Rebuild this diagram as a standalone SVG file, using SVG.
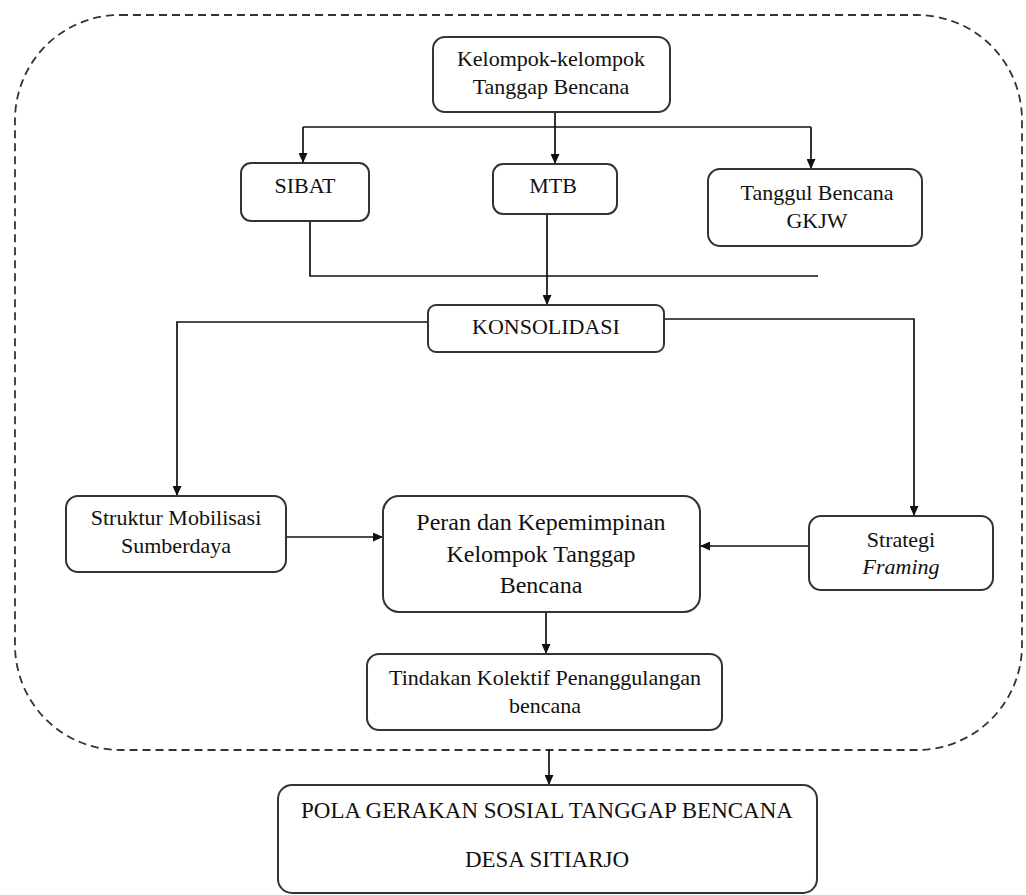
<svg xmlns="http://www.w3.org/2000/svg" width="1026" height="895" viewBox="0 0 1026 895">
<style>
.box{fill:#fff;stroke:#333;stroke-width:2}
text{font-family:'Liberation Serif','Times New Roman',Times,'DejaVu Serif',serif;font-size:22px;fill:#111;text-anchor:middle}
.big{font-size:24px}
.pola{font-size:23px}
.c{fill:none;stroke:#111;stroke-width:1.7}
.a{marker-end:url(#ah)}
</style>
<defs>
<marker id="ah" markerUnits="userSpaceOnUse" markerWidth="10" markerHeight="9" refX="10" refY="4.5" orient="auto">
<path d="M0,0 L10,4.5 L0,9 z" fill="#111"/>
</marker>
</defs>
<rect x="15" y="15" width="1007" height="735" rx="105" ry="105" fill="none" stroke="#333" stroke-width="1.8" stroke-dasharray="8 5"/>
<g id="connectors">
<path class="c a" d="M555,112 V164"/>
<path class="c" d="M303,127 H811"/>
<path class="c a" d="M303,127 V163"/>
<path class="c a" d="M811,127 V169"/>
<path class="c" d="M310,221 V276 H818"/>
<path class="c a" d="M547,214 V305"/>
<path class="c a" d="M428,322 H177 V496"/>
<path class="c a" d="M664,319 H914 V516"/>
<path class="c a" d="M286,537 H383"/>
<path class="c a" d="M809,546 H700"/>
<path class="c a" d="M546,612 V654"/>
<path class="c a" d="M549,750 V785"/>
</g>
<g id="kelompok">
<rect class="box" x="433" y="37" width="237" height="75" rx="12"/>
<text x="551" y="66">Kelompok-kelompok</text>
<text x="551" y="94">Tanggap Bencana</text>
</g>
<g id="sibat">
<rect class="box" x="241" y="163" width="128" height="58" rx="10"/>
<text x="305" y="193">SIBAT</text>
</g>
<g id="mtb">
<rect class="box" x="493" y="164" width="124" height="50" rx="10"/>
<text x="553" y="193">MTB</text>
</g>
<g id="tanggul">
<rect class="box" x="708" y="169" width="214" height="77" rx="12"/>
<text x="817" y="200">Tanggul Bencana</text>
<text x="817" y="228">GKJW</text>
</g>
<g id="konsolidasi">
<rect class="box" x="428" y="305" width="236" height="47" rx="8"/>
<text x="546" y="334">KONSOLIDASI</text>
</g>
<g id="struktur">
<rect class="box" x="66" y="496" width="220" height="76" rx="12"/>
<text x="176" y="525">Struktur Mobilisasi</text>
<text x="176" y="553">Sumberdaya</text>
</g>
<g id="peran">
<rect class="box" x="383" y="496" width="317" height="116" rx="16"/>
<text class="big" x="541" y="530">Peran dan Kepemimpinan</text>
<text class="big" x="541" y="562">Kelompok Tanggap</text>
<text class="big" x="541" y="593">Bencana</text>
</g>
<g id="strategi">
<rect class="box" x="809" y="516" width="184" height="74" rx="12"/>
<text x="901" y="547">Strategi</text>
<text x="901" y="574" font-style="italic">Framing</text>
</g>
<g id="tindakan">
<rect class="box" x="367" y="654" width="355" height="76" rx="12"/>
<text x="545" y="685">Tindakan Kolektif Penanggulangan</text>
<text x="545" y="713">bencana</text>
</g>
<g id="pola">
<rect class="box" x="278" y="785" width="539" height="108" rx="14"/>
<text class="pola" x="547" y="818">POLA GERAKAN SOSIAL TANGGAP BENCANA</text>
<text class="pola" x="547" y="867">DESA SITIARJO</text>
</g>
</svg>
